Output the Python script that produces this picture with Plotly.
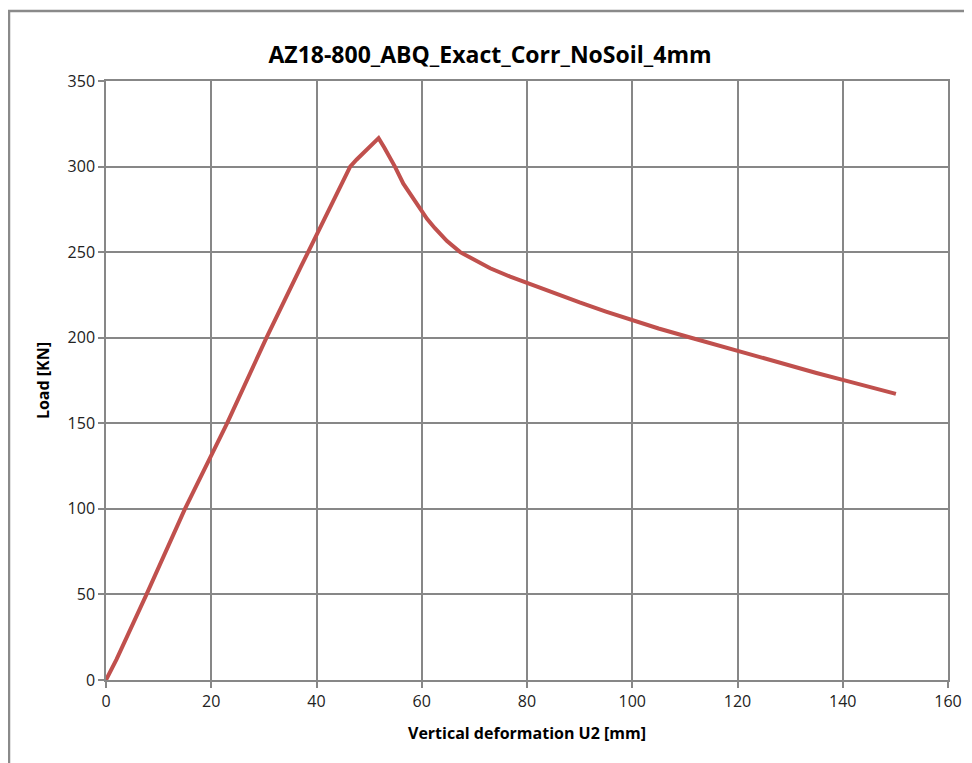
import plotly.graph_objects as go

# Data
deformation_mm = [0.0, 2.0, 7.7, 15.0, 23.0, 30.5, 36.9, 40.0, 43.2, 46.4, 47.6, 51.8,
                  52.9, 54.9, 56.5, 58.2, 59.7, 61.0, 62.5, 64.8, 67.3, 70.0, 73.0, 76.8,
                  80.0, 85.0, 90.0, 95.0, 100.0, 105.0, 111.5, 115.0, 120.0, 125.0, 130.0,
                  135.0, 140.0, 145.0, 150.1]
load_kn = [0.0, 12.0, 50.0, 100.0, 150.0, 200.0, 240.6, 260.0, 279.5, 300.0, 304.0, 316.6,
           311.0, 300.0, 290.0, 282.5, 275.6, 269.5, 264.0, 256.5, 250.0, 245.3, 240.6, 235.7,
           232.0, 226.1, 220.6, 215.3, 210.2, 205.4, 199.7, 196.6, 192.2, 187.8, 183.5,
           179.4, 175.4, 171.3, 167.2]

x_ticks = [0, 20, 40, 60, 80, 100, 120, 140, 160]
y_ticks = [0, 50, 100, 150, 200, 250, 300, 350]

title_text = "AZ18-800_ABQ_Exact_Corr_NoSoil_4mm"
x_title = "Vertical deformation U2 [mm]"
y_title = "Load [KN]"

grid_col = "#878787"
font_fam = "Open Sans, Liberation Sans, sans-serif"

fig = go.Figure()
fig.add_trace(go.Scatter(
    x=deformation_mm, y=load_kn, mode="lines",
    line=dict(color="#C0504D", width=4, shape="linear"),
    showlegend=False, hoverinfo="skip"))

# the page body adds an 8px offset, so the figure is sized to fit the 972x763 window
W, H = 964, 755
ml, mr, mt, mb = 98, 24, 73, 83

fig.update_layout(
    width=W, height=H,
    margin=dict(l=ml, r=mr, t=mt, b=mb, autoexpand=False),
    paper_bgcolor="white", plot_bgcolor="white",
    title=dict(text=f"<b>{title_text}</b>", x=(490 - 8 - ml) / (W - ml - mr), xanchor="center",
               xref="paper", y=1 - 47 / H, yanchor="middle",
               font=dict(family=font_fam, size=23, color="black")),
    font=dict(family=font_fam, size=16, color="black"),
    xaxis=dict(range=[0, 160], tickvals=x_ticks, showgrid=True, gridcolor=grid_col,
               gridwidth=1.5, showline=True, linecolor=grid_col, linewidth=1.5, mirror=True,
               ticks="outside", ticklen=6, tickcolor=grid_col, tickwidth=1.5,
               zeroline=False, tickfont=dict(size=16, color="#222"),
               title=dict(text=f"<b>{x_title}</b>", font=dict(size=16, color="black"), standoff=17)),
    yaxis=dict(range=[0, 350], tickvals=y_ticks, showgrid=True, gridcolor=grid_col,
               gridwidth=1.5, showline=True, linecolor=grid_col, linewidth=1.5, mirror=True,
               ticks="outside", ticklen=6, tickcolor=grid_col, tickwidth=1.5,
               zeroline=False, tickfont=dict(size=16, color="#222"),
               title=dict(text=f"<b>{y_title}</b>", font=dict(size=16, color="black"), standoff=14)),
)

# outer chart border (left and top edges visible in the reference)
pw = W - ml - mr
ph = H - mt - mb
fig.add_shape(type="rect", xref="paper", yref="paper",
              x0=(1 - ml) / pw, x1=(W + 5 - ml) / pw, y0=-(mb + 5) / ph, y1=1 + (mt - 3) / ph,
              line=dict(color="#8a8a8a", width=2.5), fillcolor="rgba(0,0,0,0)", layer="below")

fig.write_html("out.html")
